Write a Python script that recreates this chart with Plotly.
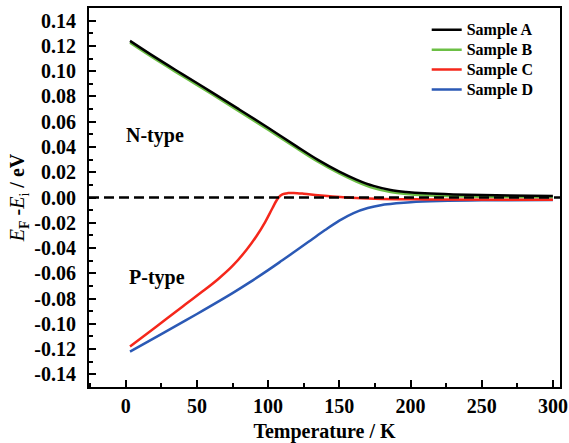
import plotly.graph_objects as go

# ---- data ----
T_A = [3, 20, 40, 60, 80, 100, 120, 135, 150, 162, 174, 186, 197, 210, 230, 260, 300]
E_A = [0.124, 0.1115, 0.0975, 0.0836, 0.0695, 0.0552, 0.0405, 0.0298, 0.0205, 0.0142, 0.0092,
       0.0060, 0.0044, 0.0033, 0.0024, 0.0017, 0.0012]

T_B = [3, 20, 40, 60, 80, 100, 120, 135, 150, 162, 174, 186, 197, 210, 230, 260, 300]
E_B = [0.1225, 0.110, 0.096, 0.0821, 0.068, 0.0537, 0.039, 0.0283, 0.019, 0.0126, 0.0074,
       0.0043, 0.0027, 0.0017, 0.0009, 0.0004, 0.0001]

T_C = [3, 20, 40, 55, 65, 75, 85, 92, 98, 103, 107, 110, 114, 118, 125, 135, 145, 155, 175, 210, 300]
E_C = [-0.118, -0.1035, -0.0862, -0.0735, -0.0645, -0.0542, -0.0412, -0.0303, -0.0192, -0.0085,
       -0.0005, 0.0025, 0.0035, 0.0036, 0.003, 0.0018, 0.0008, 0.0, -0.001, -0.0015, -0.0018]

T_D = [3, 25, 50, 75, 87, 100, 110, 120, 130, 140, 150, 160, 170, 180, 190, 200, 220, 250, 300]
E_D = [-0.122, -0.1082, -0.0922, -0.0757, -0.0672, -0.0575, -0.0497, -0.0418, -0.0338, -0.0258,
       -0.0183, -0.0123, -0.0083, -0.0059, -0.0046, -0.0037, -0.0028, -0.0022, -0.002]

series_names = ["Sample A", "Sample B", "Sample C", "Sample D"]
series_colors = ["#000000", "#6cbf45", "#f5271b", "#2b59b5"]
legend_ranks = [1, 2, 3, 4]

y_tickvals = [-0.14, -0.12, -0.10, -0.08, -0.06, -0.04, -0.02, 0.0, 0.02, 0.04, 0.06, 0.08, 0.10, 0.12, 0.14]
y_ticktext = ["-0.14", "-0.12", "-0.10", "-0.08", "-0.06", "-0.04", "-0.02", "0.00",
              "0.02", "0.04", "0.06", "0.08", "0.10", "0.12", "0.14"]
x_tickvals = [0, 50, 100, 150, 200, 250, 300]
x_ticktext = ["0", "50", "100", "150", "200", "250", "300"]

SERIF = "Liberation Serif"

series = list(zip(series_names, series_colors, legend_ranks,
                  [T_A, T_B, T_C, T_D], [E_A, E_B, E_C, E_D]))
# drawing order: green below black, red on top of blue
draw_order = [1, 0, 3, 2]

fig = go.Figure()
for i in draw_order:
    name, color, rank, xs, ys = series[i]
    fig.add_trace(go.Scatter(
        x=xs, y=ys, mode="lines",
        name=f"<span style='font-size:16px'>{name}</span>",
        legendrank=rank,
        line=dict(color=color, width=2.5, shape="spline", smoothing=1.0)))

fig.add_shape(type="line", xref="paper", x0=0, x1=1, yref="y", y0=0, y1=0,
              line=dict(color="black", width=2.5, dash="10px,5px"), layer="above")

fig.add_annotation(x=20.6, y=0.0494, text="<b>N-type</b>", showarrow=False,
                   font=dict(family=SERIF, size=20, color="black"))
fig.add_annotation(x=22, y=-0.0635, text="<b>P-type</b>", showarrow=False,
                   font=dict(family=SERIF, size=20, color="black"))

axis_common = dict(showline=True, linecolor="black", linewidth=2, mirror=True,
                   ticks="inside", ticklen=7, tickwidth=1.5, tickcolor="black",
                   showgrid=False, zeroline=False, automargin=False,
                   tickfont=dict(family=SERIF, size=20, color="black", weight="bold"))

fig.update_xaxes(range=[-25.8, 305], tickvals=x_tickvals,
                 ticktext=[f"<b>{t}</b>" for t in x_ticktext],
                 minor=dict(ticks="inside", ticklen=4, tickwidth=1.5, tickcolor="black", dtick=25, tick0=0),
                 title=dict(text="<b>Temperature / K</b>", font=dict(family=SERIF, size=20, color="black"),
                            standoff=12),
                 **axis_common)
fig.update_yaxes(range=[-0.15, 0.15], tickvals=y_tickvals,
                 ticktext=[f"<b>{t}</b>" for t in y_ticktext],
                 minor=dict(ticks="inside", ticklen=4, tickwidth=1.5, tickcolor="black", dtick=0.01, tick0=0),
                 ticklabelstandoff=7,
                 title=dict(text="<i>E</i><sub><b>F</b></sub><b> -</b><i>E</i><sub>i</sub><b> / eV</b>",
                            font=dict(family=SERIF, size=20, color="black"), standoff=4),
                 **axis_common)

fig.update_layout(
    width=569, height=443,
    margin=dict(l=89, r=9, t=8, b=56),
    paper_bgcolor="white", plot_bgcolor="white",
    showlegend=True,
    legend=dict(x=0.717, y=0.982, xanchor="left", yanchor="top",
                font=dict(family=SERIF, size=13, color="black", weight="bold"),
                bgcolor="rgba(0,0,0,0)", traceorder="normal"),
)

fig.write_html("out.html")
